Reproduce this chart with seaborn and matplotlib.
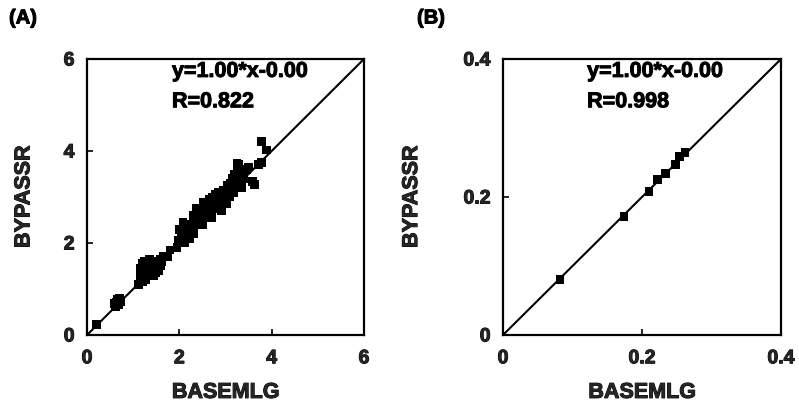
import matplotlib
matplotlib.use("Agg")
import matplotlib.pyplot as plt
import matplotlib.patheffects as pe
import seaborn as sns
import pandas as pd

# ---------------- data ----------------
a_base = [0.20, 0.62, 0.64, 0.66, 0.68, 0.70, 0.72, 0.65, 0.60,
          1.12, 1.15, 1.18, 1.20, 1.22, 1.25, 1.28, 1.30, 1.32, 1.35, 1.38, 1.40, 1.42,
          1.45, 1.48, 1.50, 1.52, 1.55, 1.58, 1.60, 1.62, 1.65, 1.20, 1.25, 1.35, 1.15,
          1.45, 1.55, 1.75, 1.80,
          1.95, 1.98, 2.00, 2.05, 2.08, 2.10, 2.12, 2.15, 2.20, 2.22, 2.25, 2.28, 2.30,
          2.32, 2.35, 2.38, 2.40, 2.42, 2.45, 2.48, 2.50, 2.52, 2.50,
          2.60, 2.62, 2.65, 2.68, 2.70, 2.72, 2.75, 2.78, 2.80, 2.82, 2.85, 2.88, 2.90,
          2.92, 2.95, 2.98, 3.00, 3.02, 3.05, 3.08, 3.10, 3.12, 3.15, 3.18, 3.20, 3.22,
          3.25, 3.28, 3.30, 3.32, 3.35, 3.38, 3.40, 3.45, 3.25,
          3.58, 3.62, 3.72, 3.78, 3.50, 3.78, 3.88]
a_bypass = [0.22, 0.62, 0.70, 0.76, 0.66, 0.80, 0.72, 0.78, 0.68,
            1.10, 1.25, 1.30, 1.15, 1.40, 1.35, 1.20, 1.50, 1.45, 1.30, 1.55, 1.40, 1.60,
            1.50, 1.35, 1.60, 1.45, 1.55, 1.65, 1.50, 1.60, 1.70, 1.55, 1.60, 1.65, 1.45,
            1.30, 1.40, 1.70, 1.85,
            1.90, 2.05, 2.30, 2.10, 2.45, 2.20, 2.00, 2.35, 2.25, 2.10, 2.40, 2.30, 2.60,
            2.20, 2.50, 2.75, 2.40, 2.60, 2.50, 2.70, 2.55, 2.88, 2.40,
            2.60, 2.80, 2.95, 2.70, 2.55, 3.00, 2.85, 3.05, 2.75, 2.95, 3.10, 2.90, 3.05,
            2.70, 3.15, 2.95, 3.10, 2.85, 3.25, 3.00, 3.30, 3.15, 3.40, 3.10, 3.50, 3.30,
            3.60, 3.70, 3.35, 3.45, 3.20, 3.55, 3.40, 3.60, 3.72,
            3.33, 3.28, 3.70, 3.75, 3.65, 4.20, 4.02]

b_base = [0.082, 0.174, 0.210, 0.222, 0.234, 0.248, 0.254, 0.262]
b_bypass = [0.081, 0.172, 0.208, 0.225, 0.234, 0.247, 0.259, 0.265]

fit_slope = 1.00
fit_intercept = 0.00
eq_text = "y=1.00*x-0.00"
r_a_text = "R=0.822"
r_b_text = "R=0.998"

a_ticks = [0, 2, 4, 6]
b_ticks = [0, 0.2, 0.4]
b_ticklabels = ["0", "0.2", "0.4"]

# ---------------- style ----------------
sns.set_theme(style="white")
plt.rcParams["font.family"] = ["Liberation Sans", "DejaVu Sans"]
plt.rcParams["font.weight"] = "bold"
plt.rcParams["axes.labelweight"] = "bold"

thick = [pe.withStroke(linewidth=0.7, foreground="black")]

fig = plt.figure(figsize=(7.99, 4.03), dpi=100)
W, H = 799, 403
axA = fig.add_axes([87 / W, (H - 335) / H, 277 / W, 276 / H])
axB = fig.add_axes([503 / W, (H - 335) / H, 278 / W, 276 / H])

dfA = pd.DataFrame({"BASEMLG": a_base, "BYPASSR": a_bypass})
dfB = pd.DataFrame({"BASEMLG": b_base, "BYPASSR": b_bypass})

panels = [
    (axA, dfA, 6, a_ticks, [str(t) for t in a_ticks], r_a_text, 1.84, -0.19, "(A)", 9 / W),
    (axB, dfB, 0.4, b_ticks, b_ticklabels, r_b_text, 0.121, -0.291, "(B)", 417 / W),
]

for ax, df, lim, ticks, ticklabels, rtext, tx, ylab_x, plabel, px in panels:
    ax.axline((0, fit_intercept), slope=fit_slope, color="black", lw=1.5, zorder=2)
    sns.scatterplot(data=df, x="BASEMLG", y="BYPASSR", marker="s", s=40,
                    color="black", edgecolor="none", ax=ax, zorder=3, legend=False)
    ax.set_xlim(0, lim)
    ax.set_ylim(0, lim)
    ax.set_xticks(ticks)
    ax.set_yticks(ticks)
    ax.set_xticklabels(ticklabels, fontsize=14, fontweight="bold")
    ax.set_yticklabels(ticklabels, fontsize=14, fontweight="bold")
    for lab in ax.get_xticklabels() + ax.get_yticklabels():
        lab.set_path_effects(thick)
    ax.tick_params(axis="both", direction="in", length=4, width=1.2, color="black",
                   bottom=True, left=True)
    ax.tick_params(axis="x", pad=11)
    ax.tick_params(axis="y", pad=9)
    for sp in ax.spines.values():
        sp.set_color("black")
        sp.set_linewidth(1.6)
    ax.set_xlabel("BASEMLG", fontsize=15.5, fontweight="bold", path_effects=thick)
    ax.set_ylabel("BYPASSR", fontsize=15.5, fontweight="bold", path_effects=thick)
    ax.xaxis.set_label_coords(0.5, -0.17)
    ax.yaxis.set_label_coords(ylab_x, 0.5)
    ax.text(tx, 0.955 * lim, eq_text, fontsize=15.5, fontweight="bold",
            va="center", ha="left", color="black", path_effects=thick)
    ax.text(tx, 0.845 * lim, rtext, fontsize=15.5, fontweight="bold",
            va="center", ha="left", color="black", path_effects=thick)
    fig.text(px, (H - 18) / H, plabel, fontsize=14.5, fontweight="bold",
             va="center", ha="left", color="black", path_effects=thick)

fig.savefig("out.png", dpi=100)
